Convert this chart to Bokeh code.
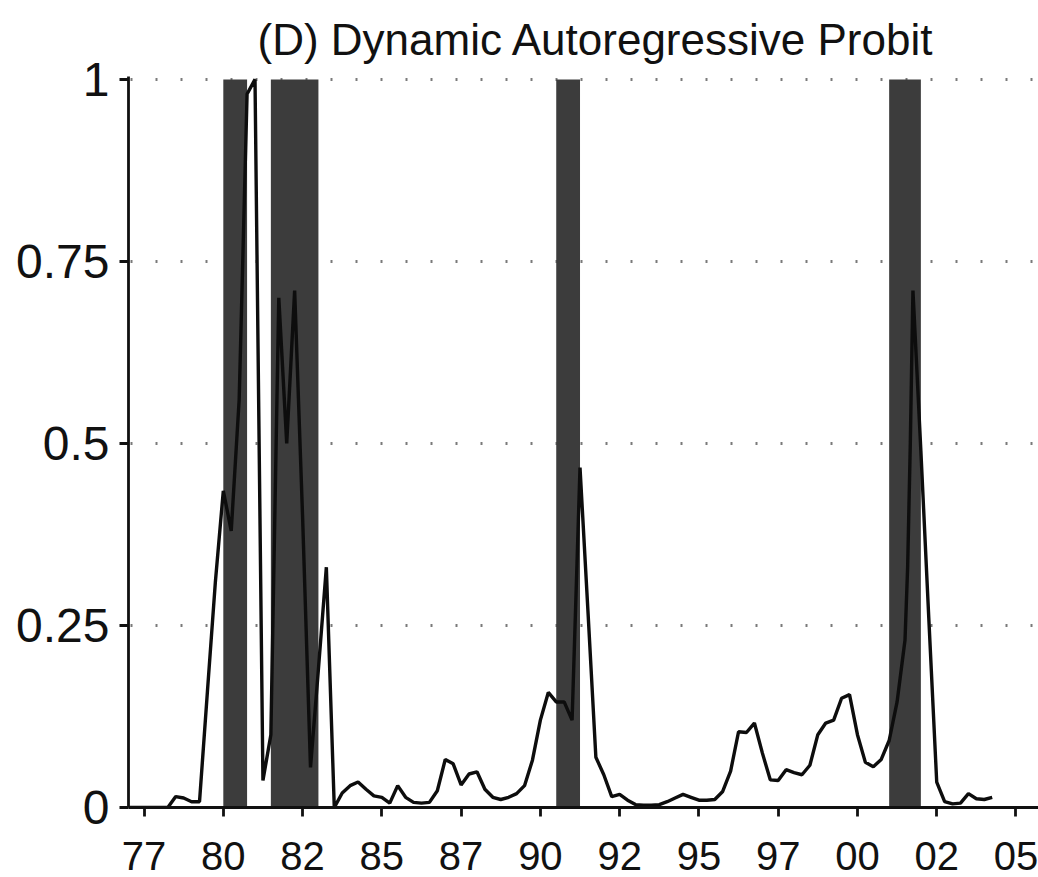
from bokeh.plotting import figure
from bokeh.models import Range1d, FixedTicker, CustomJSTickFormatter
from bokeh.embed import file_html
from bokeh.resources import INLINE

# ---------------- data ----------------
dates = [
    1977.00, 1977.25, 1977.50, 1977.75, 1978.00, 1978.25, 1978.50, 1978.75,
    1979.00, 1979.25, 1979.50, 1979.75, 1980.00, 1980.25, 1980.50, 1980.75,
    1981.00, 1981.25, 1981.50, 1981.75, 1982.00, 1982.25, 1982.50, 1982.75,
    1983.00, 1983.25, 1983.50, 1983.75, 1984.00, 1984.25, 1984.50, 1984.75,
    1985.00, 1985.25, 1985.50, 1985.75, 1986.00, 1986.25, 1986.50, 1986.75,
    1987.00, 1987.25, 1987.50, 1987.75, 1988.00, 1988.25, 1988.50, 1988.75,
    1989.00, 1989.25, 1989.50, 1989.75, 1990.00, 1990.25, 1990.50, 1990.75,
    1991.00, 1991.25, 1991.50, 1991.75, 1992.00, 1992.25, 1992.50, 1992.75,
    1993.00, 1993.25, 1993.50, 1993.75, 1994.00, 1994.25, 1994.50, 1994.75,
    1995.00, 1995.25, 1995.50, 1995.75, 1996.00, 1996.25, 1996.50, 1996.75,
    1997.00, 1997.25, 1997.50, 1997.75, 1998.00, 1998.25, 1998.50, 1998.75,
    1999.00, 1999.25, 1999.50, 1999.75, 2000.00, 2000.25, 2000.50, 2000.75,
    2001.00, 2001.25, 2001.50, 2001.583, 2001.667, 2001.75, 2002.00, 2002.25,
    2002.50, 2002.75, 2003.00, 2003.25, 2003.50, 2003.75, 2004.00, 2004.25,
]
probability = [
    0.000, 0.000, 0.000, 0.000, 0.000, 0.000, 0.015, 0.013,
    0.008, 0.008, 0.160, 0.310, 0.435, 0.380, 0.560, 0.980,
    1.000, 0.037, 0.100, 0.700, 0.500, 0.710, 0.400, 0.055,
    0.190, 0.330, 0.000, 0.020, 0.030, 0.035, 0.025, 0.016,
    0.014, 0.006, 0.030, 0.014, 0.007, 0.006, 0.007, 0.023,
    0.066, 0.060, 0.031, 0.046, 0.049, 0.025, 0.014, 0.011,
    0.014, 0.019, 0.030, 0.065, 0.120, 0.158, 0.145, 0.145,
    0.120, 0.467, 0.270, 0.069, 0.045, 0.015, 0.018, 0.010,
    0.004, 0.003, 0.003, 0.004, 0.008, 0.013, 0.018, 0.014,
    0.010, 0.010, 0.011, 0.022, 0.050, 0.104, 0.103, 0.116,
    0.075, 0.038, 0.037, 0.052, 0.048, 0.045, 0.058, 0.100,
    0.116, 0.120, 0.150, 0.155, 0.100, 0.062, 0.056, 0.066,
    0.092, 0.145, 0.230, 0.330, 0.500, 0.710, 0.490, 0.260,
    0.035, 0.008, 0.005, 0.006, 0.019, 0.012, 0.011, 0.014,
]

recession_start = [1980.00, 1981.50, 1990.50, 2001.00]
recession_end = [1980.75, 1983.00, 1991.25, 2002.00]

x_ticks = [1977.5, 1980.0, 1982.5, 1985.0, 1987.5, 1990.0,
           1992.5, 1995.0, 1997.5, 2000.0, 2002.5, 2005.0]
x_tick_labels = ["77", "80", "82", "85", "87", "90",
                 "92", "95", "97", "00", "02", "05"]
y_ticks = [0.0, 0.25, 0.5, 0.75, 1.0]
y_tick_labels = ["0", "0.25", "0.5", "0.75", "1"]
grid_levels = [0.25, 0.5, 0.75, 1.0]

title_text = "(D) Dynamic Autoregressive Probit"

# ---------------- figure ----------------
FONT = "Liberation Sans"

p = figure(width=1038, height=877, output_backend="svg", toolbar_location=None,
           x_range=Range1d(1977.01, 2005.71), y_range=Range1d(0.0, 1.004),
           min_border_left=128, min_border_right=0, min_border_top=76,
           min_border_bottom=70, background_fill_color="white",
           border_fill_color="white")
p.outline_line_color = None

p.title.text = title_text
p.title.text_font = FONT
p.title.text_font_size = "44px"
p.title.text_font_style = "normal"
p.title.text_color = "#111111"
p.title.align = "left"
p.title.offset = 129
p.title.standoff = 25

# recession shading
p.quad(left=recession_start, right=recession_end,
       bottom=[0.0] * len(recession_start), top=[1.0] * len(recession_start),
       fill_color="#3c3c3c", line_color=None)

# probability line
p.line(dates, probability, line_color="#0d0d0d", line_width=3.4)

# grid
p.xgrid.visible = False
p.ygrid.ticker = FixedTicker(ticks=grid_levels)
p.ygrid.grid_line_color = "#7a7a7a"
p.ygrid.grid_line_width = 3
p.ygrid.grid_line_dash = "2 23"
p.ygrid.grid_line_dash_offset = 23

LOOKUP = """
    let best = -1, d = 1e9;
    for (let i = 0; i < tick_values.length; i++) {
        const e = Math.abs(tick_values[i] - tick);
        if (e < d) { d = e; best = i; }
    }
    return (best >= 0 && d < 1e-6) ? tick_names[best] : "";
"""

# axes
p.xaxis.ticker = FixedTicker(ticks=x_ticks)
p.xaxis.formatter = CustomJSTickFormatter(
    args=dict(tick_values=x_ticks, tick_names=x_tick_labels), code=LOOKUP)
p.yaxis.ticker = FixedTicker(ticks=y_ticks)
p.yaxis.formatter = CustomJSTickFormatter(
    args=dict(tick_values=y_ticks, tick_names=y_tick_labels), code=LOOKUP)

for ax in (p.xaxis[0], p.yaxis[0]):
    ax.axis_line_color = "#111111"
    ax.axis_line_width = 2.8
    ax.major_tick_line_color = "#111111"
    ax.major_tick_line_width = 2.8
    ax.major_tick_in = 0
    ax.major_tick_out = 9
    ax.minor_tick_line_color = None
    ax.major_label_text_font = FONT
    ax.major_label_text_color = "#111111"

p.xaxis.major_label_text_font_size = "40px"
p.xaxis.major_label_standoff = 25
p.yaxis.major_label_text_font_size = "48px"
p.yaxis.major_label_standoff = 10

open("out.html", "w").write(file_html(p, INLINE))
